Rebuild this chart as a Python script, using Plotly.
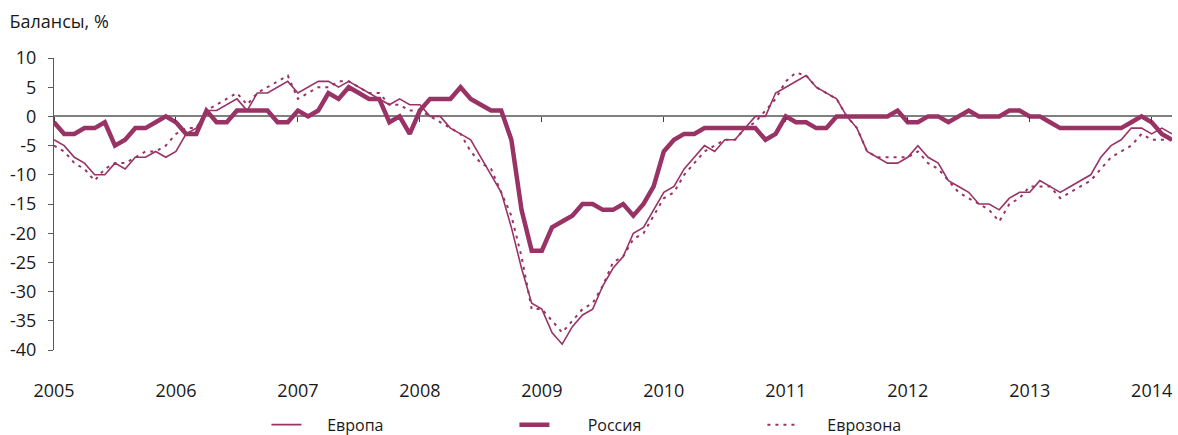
import plotly.graph_objects as go

years = ["2005", "2006", "2007", "2008", "2009", "2010", "2011", "2012", "2013", "2014"]
n_points = 111
months = [f"{2005 + k // 12}-{k % 12 + 1:02d}" for k in range(n_points)]
year_ticks = [f"{y}-01" for y in years]

europe = [
    -4, -5, -7, -8, -10, -10, -8, -9, -7, -7, -6, -7,
    -6, -3, -2, 1, 1, 2, 3, 1, 4, 4, 5, 6,
    4, 5, 6, 6, 5, 6, 5, 4, 3, 2, 3, 2,
    2, 0, 0, -2, -3, -4, -7, -10, -13, -19, -26, -32,
    -33, -37, -39, -36, -34, -33, -29, -26, -24, -20, -19, -16,
    -13, -12, -9, -7, -5, -6, -4, -4, -2, 0, 0, 4,
    5, 6, 7, 5, 4, 3, 0, -2, -6, -7, -8, -8,
    -7, -5, -7, -8, -11, -12, -13, -15, -15, -16, -14, -13,
    -13, -11, -12, -13, -12, -11, -10, -7, -5, -4, -2, -2,
    -3, -2, -3,
]
russia = [
    -1, -3, -3, -2, -2, -1, -5, -4, -2, -2, -1, 0,
    -1, -3, -3, 1, -1, -1, 1, 1, 1, 1, -1, -1,
    1, 0, 1, 4, 3, 5, 4, 3, 3, -1, 0, -3,
    1, 3, 3, 3, 5, 3, 2, 1, 1, -4, -16, -23,
    -23, -19, -18, -17, -15, -15, -16, -16, -15, -17, -15, -12,
    -6, -4, -3, -3, -2, -2, -2, -2, -2, -2, -4, -3,
    0, -1, -1, -2, -2, 0, 0, 0, 0, 0, 0, 1,
    -1, -1, 0, 0, -1, 0, 1, 0, 0, 0, 1, 1,
    0, 0, -1, -2, -2, -2, -2, -2, -2, -2, -1, 0,
    -1, -3, -4,
]
eurozone = [
    -5, -6, -8, -9, -11, -9, -8, -8, -7, -6, -6, -5,
    -3, -2, -2, 1, 2, 3, 4, 2, 4, 5, 6, 7,
    3, 4, 5, 5, 6, 6, 5, 4, 4, 2, 2, 1,
    1, 0, -1, -2, -3, -6, -8, -9, -13, -17, -24, -33,
    -33, -35, -37, -35, -33, -32, -29, -25, -24, -21, -20, -17,
    -14, -13, -10, -8, -6, -5, -4, -4, -2, -1, 1, 3,
    6, 7.5, 7, 5, 4, 3, 0, -2, -6, -7, -7, -7,
    -7, -6, -8, -9, -11, -13, -14, -15, -16, -18, -15, -14,
    -12, -12, -12, -14, -13, -12, -11, -9, -7, -6, -5, -3,
    -4, -4, -4,
]

y_ticks = [10, 5, 0, -5, -10, -15, -20, -25, -30, -35, -40]
y_tick_text = [str(v) for v in y_ticks]

color = "#993366"
font_family = "Open Sans"
text_color = "#1a1a1a"
nb = "\u00a0"  # gap between legend sample and its label

fig = go.Figure()
fig.add_trace(go.Scatter(x=months, y=eurozone, name=nb * 6 + "Еврозона", mode="lines",
                         line=dict(color=color, width=2, dash="3px,5px"), legendrank=3))
fig.add_trace(go.Scatter(x=months, y=europe, name=nb * 5 + "Европа", mode="lines",
                         line=dict(color=color, width=1.6), legendrank=1))
fig.add_trace(go.Scatter(x=months, y=russia, name=nb * 8 + "Россия", mode="lines",
                         line=dict(color=color, width=4.5), legendrank=2))
# helper trace so that the tick axis on the zero line is drawn
fig.add_trace(go.Scatter(x=months, y=[None] * n_points, xaxis="x2", showlegend=False,
                         hoverinfo="skip", mode="lines"))

fig.update_layout(
    width=1178, height=435,
    margin=dict(l=54, r=6, t=58, b=85, autoexpand=False),
    paper_bgcolor="white", plot_bgcolor="white",
    font=dict(family=font_family, size=18, color=text_color),
    title=dict(text="Балансы, %", x=0.008, xanchor="left", xref="container",
               y=0.95, yanchor="middle", yref="container",
               font=dict(family=font_family, size=18, color=text_color)),
    showlegend=True,
    legend=dict(orientation="h", x=0.19, xanchor="left", y=-0.256, yanchor="middle",
                font=dict(family=font_family, size=16, color=text_color),
                entrywidthmode="pixels", entrywidth=203, traceorder="normal",
                bgcolor="rgba(0,0,0,0)"),
    xaxis=dict(type="category", categoryorder="array", categoryarray=months,
               range=[0, n_points - 1], showgrid=False, zeroline=False, showline=False,
               tickmode="array", tickvals=year_ticks, ticktext=years,
               ticks="outside", ticklen=24, tickcolor="rgba(0,0,0,0)",
               tickfont=dict(family=font_family, size=18, color=text_color)),
    xaxis2=dict(type="category", categoryorder="array", categoryarray=months,
                overlaying="x", anchor="free", position=0.8,
                range=[0, n_points - 1], showgrid=False, zeroline=False, showline=False,
                tickmode="array", tickvals=year_ticks, showticklabels=False,
                ticks="outside", ticklen=5, tickwidth=1, tickcolor="#404040"),
    yaxis=dict(range=[-40, 10], tickmode="array", tickvals=y_ticks, ticktext=y_tick_text,
               showgrid=False, showline=True, linecolor="#595959", linewidth=1,
               ticks="outside", ticklen=5, tickcolor="#595959",
               ticklabelstandoff=8,
               zeroline=True, zerolinecolor="#808080", zerolinewidth=2,
               tickfont=dict(family=font_family, size=18, color=text_color)),
)

fig.write_html("out.html", config={"displayModeBar": False},
               post_script="document.body.style.margin='0';")
